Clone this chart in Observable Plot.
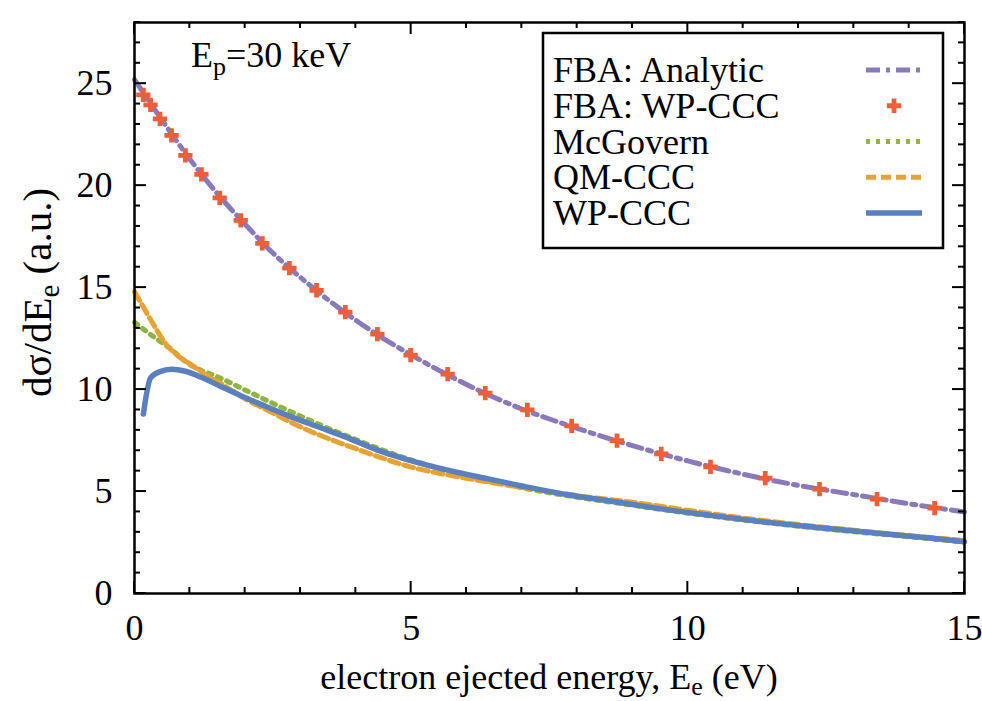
<!DOCTYPE html>
<html><head><meta charset="utf-8">
<script src="https://cdn.jsdelivr.net/npm/d3@7"></script>
<script src="https://cdn.jsdelivr.net/npm/@observablehq/plot@0.6"></script>
<style>
body{margin:0;background:#fff;}
#chart{width:982px;height:701px;}
</style></head><body><div id="chart"></div>
<script>
// ---- data ----
const xTicks = [0, 5, 10, 15];
const yTicks = [0, 5, 10, 15, 20, 25];

const analyticE = [0, 0.5, 1, 1.5, 2, 2.5, 3, 3.5, 4, 4.5, 5, 6, 7, 8, 9, 10, 11, 12, 13, 14, 15];
const analyticV = [25.2, 23.2, 21.3, 19.6, 18.1, 16.7, 15.5, 14.4, 13.4, 12.5, 11.7, 10.25, 9.05, 8.1, 7.25, 6.5, 5.85, 5.3, 4.85, 4.4, 4.0];

const fbaWpE = [0.16, 0.29, 0.46, 0.67, 0.92, 1.21, 1.54, 1.92, 2.31, 2.80, 3.29, 3.81, 4.39, 4.99, 5.66, 6.34, 7.1, 7.9, 8.72, 9.52, 10.41, 11.40, 12.38, 13.42, 14.46];
const fbaWpV = [24.45, 23.96, 23.27, 22.46, 21.48, 20.55, 19.4, 18.3, 17.17, 15.95, 14.87, 13.8, 12.72, 11.69, 10.76, 9.83, 9.0, 8.22, 7.5, 6.85, 6.21, 5.66, 5.12, 4.63, 4.19];

const mcgE = [0, 0.34, 0.65, 0.96, 1.55, 2.15, 3.0, 3.5, 4, 4.5, 5, 6, 7, 8, 9, 10, 11, 12, 13, 14, 15];
const mcgV = [13.3, 12.6, 12.0, 11.3, 10.57, 9.78, 8.7, 8.1, 7.55, 7.02, 6.55, 5.78, 5.18, 4.72, 4.33, 3.94, 3.6, 3.3, 3.03, 2.78, 2.52];

const qmE = [0, 0.17, 0.34, 0.55, 0.83, 1.01, 1.19, 1.5, 2.0, 2.5, 3.0, 3.5, 4, 4.5, 5, 5.5, 6, 7, 8, 9, 10, 11, 12, 13, 14, 15];
const qmV = [14.8, 14.0, 13.2, 12.3, 11.56, 11.25, 10.9, 10.4, 9.55, 8.85, 8.17, 7.6, 7.1, 6.62, 6.2, 5.9, 5.65, 5.2, 4.8, 4.47, 4.08, 3.7, 3.38, 3.1, 2.84, 2.6];

const wpE = [0.16, 0.29, 0.46, 0.67, 0.92, 1.21, 1.54, 1.92, 2.31, 2.80, 3.29, 3.81, 4.39, 4.99, 5.66, 6.34, 7.08, 7.86, 8.68, 9.52, 10.41, 11.40, 12.38, 13.39, 14.42, 15];
const wpV = [8.8, 10.57, 10.88, 11.0, 10.9, 10.6, 10.18, 9.7, 9.25, 8.7, 8.2, 7.68, 7.03, 6.52, 6.05, 5.65, 5.23, 4.83, 4.5, 4.15, 3.83, 3.5, 3.22, 2.97, 2.71, 2.54];

const legendLabels = ["FBA: Analytic", "FBA: WP-CCC", "McGovern", "QM-CCC", "WP-CCC"];

// ---- styles ----
const FONT = "'Liberation Serif','Tinos','Nimbus Roman','DejaVu Serif',serif";
const C = {analytic: "#8a7ab9", fbawp: "#ef5f37", mcg: "#8fb43f", qm: "#e8a233", wp: "#5b80bf"};
const styles = [
  {type: "line", stroke: C.analytic, width: 5, dash: "14,6,4,6"},
  {type: "dot", fill: C.fbawp},
  {type: "line", stroke: C.mcg, width: 5, dash: "4,6"},
  {type: "line", stroke: C.qm, width: 5, dash: "10,5"},
  {type: "line", stroke: C.wp, width: 5.5, dash: null}
];
const zip = (a, b) => a.map((x, i) => ({x, y: b[i]}));

const W = 982, H = 701, mL = 134, mR = 18, mT = 22, mB = 108;
const DOT_R = 6;

const chart = Plot.plot({
  width: W, height: H,
  marginLeft: mL, marginRight: mR, marginTop: mT, marginBottom: mB,
  style: {fontFamily: FONT, fontSize: "36px", background: "white", color: "black", overflow: "visible"},
  x: {domain: [0, 15], label: null},
  y: {domain: [0, 28], label: null},
  marks: [
    Plot.axisX({ticks: xTicks, tickSize: 0, tickPadding: 21, label: null, fontSize: 36, tickFormat: d => String(d)}),
    Plot.axisY({ticks: yTicks, tickSize: 0, tickPadding: 22, label: null, fontSize: 36, tickFormat: d => String(d)}),
    Plot.line(zip(analyticE, analyticV), {x: "x", y: "y", stroke: C.analytic, strokeWidth: styles[0].width, strokeDasharray: styles[0].dash, curve: "monotone-x"}),
    Plot.dot(zip(fbaWpE, fbaWpV), {x: "x", y: "y", symbol: "cross", r: DOT_R, fill: C.fbawp, stroke: "none"}),
    Plot.line(zip(mcgE, mcgV), {x: "x", y: "y", stroke: C.mcg, strokeWidth: styles[2].width, strokeDasharray: styles[2].dash, curve: "monotone-x"}),
    Plot.line(zip(qmE, qmV), {x: "x", y: "y", stroke: C.qm, strokeWidth: styles[3].width, strokeDasharray: styles[3].dash, curve: "monotone-x"}),
    Plot.line(zip(wpE, wpV), {x: "x", y: "y", stroke: C.wp, strokeWidth: styles[4].width, curve: "monotone-x"}),
    Plot.frame({stroke: "black", strokeWidth: 2.5})
  ]
});
document.getElementById("chart").appendChild(chart);

// ---- inward ticks on all four sides ----
const sx = chart.scale("x"), sy = chart.scale("y");
const svg = d3.select(chart);
const g = svg.append("g").attr("stroke", "black").attr("stroke-width", 2);
const MAJ = 12, MIN = 6;
const x0 = sx.range[0], x1 = sx.range[1];
const y0 = sy.range[0], y1 = sy.range[1];
d3.range(0, 15.001, 1).forEach(v => {
  const px = sx.apply(v), len = (v % 5 === 0) ? MAJ : MIN;
  g.append("line").attr("x1", px).attr("x2", px).attr("y1", y0).attr("y2", y0 - len);
  g.append("line").attr("x1", px).attr("x2", px).attr("y1", y1).attr("y2", y1 + len);
});
d3.range(0, 28.001, 1).forEach(v => {
  const py = sy.apply(v), len = (v % 5 === 0) ? MAJ : MIN;
  g.append("line").attr("y1", py).attr("y2", py).attr("x1", x0).attr("x2", x0 + len);
  g.append("line").attr("y1", py).attr("y2", py).attr("x1", x1).attr("x2", x1 - len);
});

// ---- axis titles ----
const cx = (x0 + x1) / 2, cy = (y0 + y1) / 2;
const xl = svg.append("text").attr("x", cx).attr("y", 689).attr("text-anchor", "middle")
  .attr("font-family", FONT).attr("font-size", 36).attr("fill", "black");
xl.append("tspan").text("electron ejected energy, E");
xl.append("tspan").attr("font-size", 26).attr("dy", 6).text("e");
xl.append("tspan").attr("dy", -6).text(" (eV)");

const yl = svg.append("text").attr("transform", `translate(51,${cy - 15}) rotate(-90)`).attr("text-anchor", "middle")
  .attr("font-family", FONT).attr("font-size", 41).attr("fill", "black");
yl.append("tspan").text("dσ/dE");
yl.append("tspan").attr("font-size", 29).attr("dy", 8).text("e");
yl.append("tspan").attr("dy", -8).text(" (a.u.)");

// ---- annotation ----
const an = svg.append("text").attr("x", 191).attr("y", 67).attr("text-anchor", "start")
  .attr("font-family", FONT).attr("font-size", 36).attr("fill", "black");
an.append("tspan").text("E");
an.append("tspan").attr("font-size", 26).attr("dy", 8).text("p");
an.append("tspan").attr("dy", -8).text("=30 keV");

// ---- legend ----
const lg = svg.append("g");
lg.append("rect").attr("x", 543).attr("y", 33).attr("width", 400).attr("height", 215)
  .attr("fill", "white").attr("stroke", "black").attr("stroke-width", 2.5);
legendLabels.forEach((lab, i) => {
  const base = 82 + i * 35.75;
  lg.append("text").attr("x", 553).attr("y", base).attr("text-anchor", "start")
    .attr("font-family", FONT).attr("font-size", 36).attr("fill", "black").text(lab);
  const st = styles[i], my = base - 12;
  if (st.type === "line") {
    const ln = lg.append("line").attr("x1", 866).attr("x2", 922).attr("y1", my).attr("y2", my)
      .attr("stroke", st.stroke).attr("stroke-width", st.width);
    if (st.dash) ln.attr("stroke-dasharray", st.dash);
  } else {
    lg.append("path").attr("d", d3.symbol(d3.symbolCross, Math.PI * DOT_R * DOT_R)())
      .attr("transform", `translate(894,${my})`).attr("fill", st.fill);
  }
});
</script></body></html>
